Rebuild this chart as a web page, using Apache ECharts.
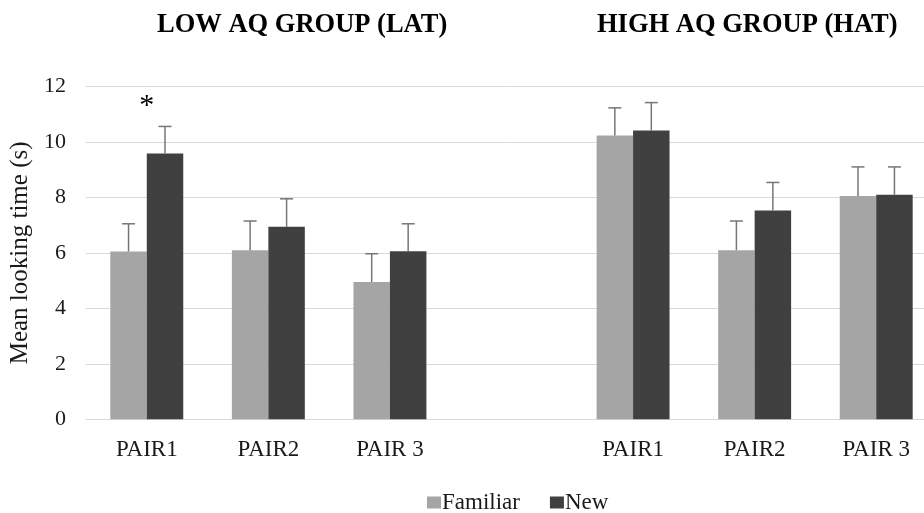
<!DOCTYPE html>
<html>
<head>
<meta charset="utf-8">
<script src="https://cdn.jsdelivr.net/npm/echarts@6/dist/echarts.min.js"></script>
<style>
html,body{margin:0;padding:0;background:#fff;}
#chart{width:924px;height:513px;}
</style>
</head>
<body>
<div id="chart"></div>
<script>
// ---- data ----
const categories = ['PAIR1', 'PAIR2', 'PAIR 3', '', 'PAIR1', 'PAIR2', 'PAIR 3'];
const familiar = [6.05, 6.10, 4.95, null, 10.23, 6.10, 8.05];
const familiarErr = [1.00, 1.05, 1.02, null, 1.00, 1.05, 1.05];
const newVals = [9.58, 6.94, 6.06, null, 10.41, 7.53, 8.10];
const newErr = [0.98, 1.01, 0.99, null, 1.01, 1.01, 1.00];
const yTicks = [0, 2, 4, 6, 8, 10, 12];
const groupTitles = ['LOW AQ GROUP (LAT)', 'HIGH AQ GROUP (HAT)'];
const seriesNames = ['Familiar', 'New'];
const significance = [{ index: 0, value: 11.3, text: '*' }];

const FONT = '"Liberation Serif", "Times New Roman", serif';
const C_FAM = '#a5a5a5';
const C_NEW = '#404040';
const BAR_FRAC = 0.30;

function errData(vals, errs) {
  const out = [];
  vals.forEach((v, i) => { if (v != null) out.push([i, v, errs[i]]); });
  return out;
}

function errSeries(vals, errs, offsetFrac) {
  return {
    type: 'custom',
    silent: true,
    z: 5,
    data: errData(vals, errs),
    encode: { x: 0, y: 1 },
    renderItem: function (params, api) {
      const i = api.value(0), v = api.value(1), e = api.value(2);
      const bw = api.size([1, 0])[0];
      const p0 = api.coord([i, v]);
      const p1 = api.coord([i, v + e]);
      const x = p0[0] + offsetFrac * bw;
      const cap = 6.5;
      const st = { stroke: '#767676', lineWidth: 1.5 };
      return {
        type: 'group',
        children: [
          { type: 'line', shape: { x1: x, y1: p0[1], x2: x, y2: p1[1] }, style: st },
          { type: 'line', shape: { x1: x - cap, y1: p1[1], x2: x + cap, y2: p1[1] }, style: st }
        ]
      };
    }
  };
}

const chart = echarts.init(document.getElementById('chart'), null, { renderer: 'canvas' });

const option = {
  animation: false,
  backgroundColor: '#ffffff',
  textStyle: { fontFamily: FONT },
  grid: { left: 86, width: 851, top: 86.5, bottom: 93.7, containLabel: false, outerBoundsMode: 'none' },
  legend: {
    data: seriesNames,
    left: 427,
    top: 491,
    padding: 0,
    icon: 'rect',
    itemWidth: 14,
    itemHeight: 12,
    itemGap: 30,
    textStyle: { fontFamily: FONT, fontSize: 23, color: '#1a1a1a', padding: [0, 0, 0, -4] }
  },
  xAxis: {
    type: 'category',
    data: categories,
    axisTick: { show: false },
    axisLine: { show: true, lineStyle: { color: '#d9d9d9', width: 1 } },
    axisLabel: { fontFamily: FONT, fontSize: 23, color: '#1a1a1a', margin: 19, interval: 0 },
    splitLine: { show: false }
  },
  yAxis: {
    type: 'value',
    min: yTicks[0],
    max: yTicks[yTicks.length - 1],
    interval: yTicks[1] - yTicks[0],
    name: 'Mean looking time (s)',
    nameLocation: 'middle',
    nameRotate: 90,
    nameGap: 50,
    nameTextStyle: { fontFamily: FONT, fontSize: 25, color: '#1a1a1a' },
    axisLine: { show: false },
    axisTick: { show: false },
    axisLabel: { fontFamily: FONT, fontSize: 22, color: '#1a1a1a', margin: 20 },
    splitLine: { show: true, lineStyle: { color: '#d9d9d9', width: 1 } }
  },
  graphic: [
    { type: 'text', left: 157, top: 12, style: { text: groupTitles[0], font: 'bold 26.5px ' + FONT, fill: '#000' } },
    { type: 'text', left: 597, top: 12, style: { text: groupTitles[1], font: 'bold 26.5px ' + FONT, fill: '#000' } }
  ],
  series: [
    {
      name: seriesNames[0], type: 'bar', data: familiar, barWidth: (BAR_FRAC * 100) + '%', barGap: '0%',
      itemStyle: { color: C_FAM }
    },
    {
      name: seriesNames[1], type: 'bar', data: newVals, barWidth: (BAR_FRAC * 100) + '%', barGap: '0%',
      itemStyle: { color: C_NEW }
    },
    errSeries(familiar, familiarErr, -BAR_FRAC / 2),
    errSeries(newVals, newErr, BAR_FRAC / 2),
    {
      type: 'custom',
      silent: true,
      z: 6,
      data: significance.map(s => [s.index, s.value]),
      encode: { x: 0, y: 1 },
      renderItem: function (params, api) {
        const p = api.coord([api.value(0), api.value(1)]);
        return {
          type: 'text',
          x: p[0], y: p[1],
          style: { text: significance[params.dataIndex].text, font: '30px ' + FONT, fill: '#000', align: 'center', verticalAlign: 'middle' }
        };
      }
    }
  ]
};

chart.setOption(option);
</script>
</body>
</html>
